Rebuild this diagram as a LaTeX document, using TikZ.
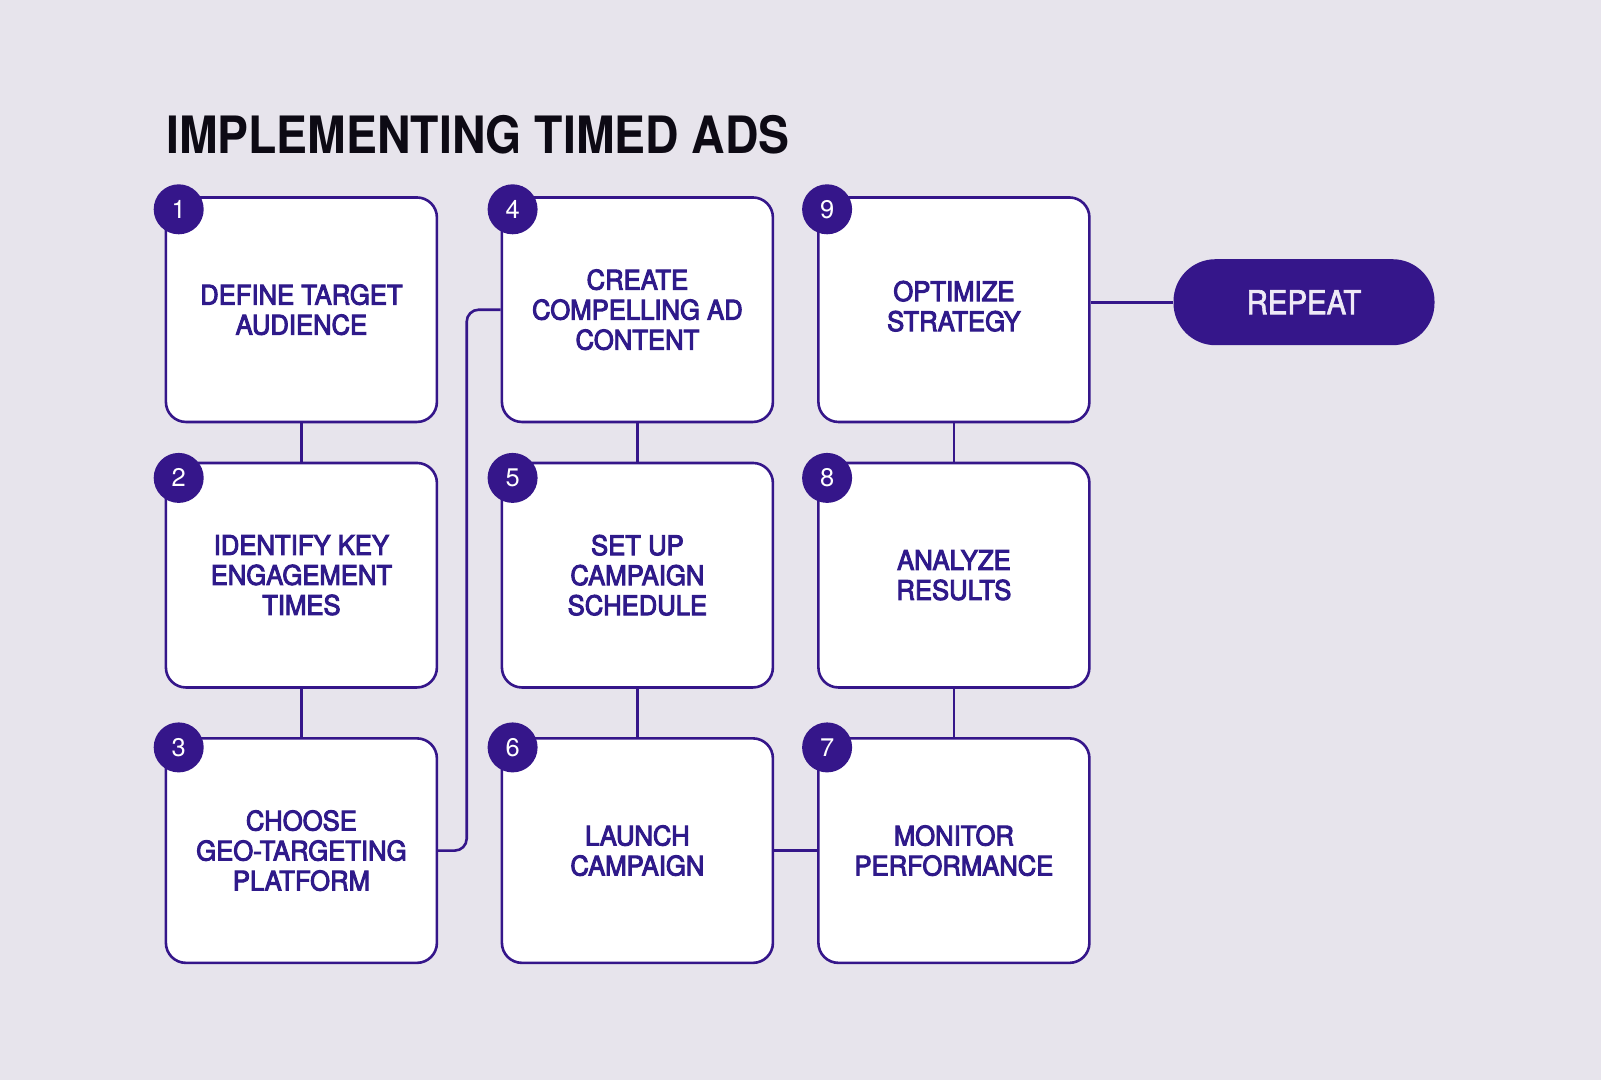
\documentclass[tikz,border=0pt]{standalone}
\usepackage{fontspec}
\setmainfont{TeX Gyre Heros}
\newfontfamily\titlefont[FakeStretch=0.9]{TeX Gyre Heros}
\newfontfamily\boxfont[FakeStretch=0.95,FakeBold=3.5]{TeX Gyre Heros}
\newfontfamily\numfont{TeX Gyre Heros}
\newfontfamily\repfont[FakeStretch=0.89,FakeBold=2]{TeX Gyre Heros}
\definecolor{bg}{HTML}{E7E4EC}
\definecolor{pur}{HTML}{35168A}
\definecolor{ptext}{HTML}{2F1A8A}
\definecolor{lav}{HTML}{EEE9F6}
\definecolor{titlec}{HTML}{0D0A14}
\tikzset{
  stepbox/.style={draw=pur, line width=2.6pt, fill=white, rounded corners=20pt,
    minimum width=271pt, minimum height=224.5pt, inner sep=0pt, align=center,
    text=ptext, font=\boxfont\fontsize{27}{30}\selectfont},
  boxtext/.style={inner sep=0pt, align=center, text=ptext, font=\boxfont\fontsize{27}{30}\selectfont},
  numc/.style={circle, fill=pur, draw=none, minimum size=50pt, inner sep=0pt,
    text=white, font=\numfont\fontsize{25.5}{25.5}\selectfont},
  conn/.style={draw=pur, line width=2.6pt},
  pill/.style={fill=pur, draw=none, rounded corners=42pt, minimum width=261pt,
    minimum height=86pt, inner sep=0pt, text=lav, font=\repfont\fontsize{33}{33}\selectfont}
}
\begin{document}
\begin{tikzpicture}[x=1pt,y=-1pt]
\fill[bg] (0,0) rectangle (1601,1080);
\useasboundingbox (0,0) rectangle (1601,1080);

\node[anchor=base west, inner sep=0pt, text=titlec,
  font=\titlefont\bfseries\fontsize{51.5}{51.5}\selectfont] (title) at (166,153) {IMPLEMENTING TIMED ADS};

\coordinate (jog) at (466.7,0);

\path (301.4,309.7) coordinate (c1) (301.4,575.2) coordinate (c2) (301.4,850.6) coordinate (c3)
      (637.4,309.7) coordinate (c4) (637.4,575.2) coordinate (c5) (637.4,850.6) coordinate (c6)
      (953.9,309.7) coordinate (c9) (953.9,575.2) coordinate (c8) (953.9,850.6) coordinate (c7);

\node[stepbox] (b1) at (c1) {DEFINE TARGET\\AUDIENCE};
\node[stepbox] (b2) at (c2) {IDENTIFY KEY\\ENGAGEMENT\\TIMES};
\node[stepbox] (b3) at (c3) {CHOOSE\\GEO-TARGETING\\PLATFORM};
\node[stepbox] (b4) at (c4) {CREATE\\COMPELLING AD\\CONTENT};
\node[stepbox] (b5) at (c5) {SET UP\\CAMPAIGN\\SCHEDULE};
\node[stepbox] (b6) at (c6) {LAUNCH\\CAMPAIGN};
\node[stepbox] (b7) at (c7) {MONITOR\\PERFORMANCE};
\node[stepbox] (b8) at (c8) {ANALYZE\\RESULTS};
\node[stepbox] (b9) at (c9) {};
\node[boxtext] (t9) at ([yshift=3.5pt]c9) {OPTIMIZE\\STRATEGY};

\node[pill] (rep) at (1304,302.2) {REPEAT};

\draw[conn] (b1.south) -- (b2.north);
\draw[conn] (b2.south) -- (b3.north);
\draw[conn] (b4.south) -- (b5.north);
\draw[conn] (b5.south) -- (b6.north);
\draw[conn] (b9.south) -- (b8.north);
\draw[conn] (b8.south) -- (b7.north);
\draw[conn] (b6.east) -- (b7.west);
\draw[conn, rounded corners=12pt] (b3.east) -- (b3.east -| jog) -- (b4.west -| jog) -- (b4.west);
\draw[conn] (rep.west -| b9.east) -- (rep.west);

\node[numc] (n1) at (178.7,209.3) {1};
\node[numc] (n2) at (178.7,477.9) {2};
\node[numc] (n3) at (178.7,747.4) {3};
\node[numc] (n4) at (512.6,209.3) {4};
\node[numc] (n5) at (512.6,477.9) {5};
\node[numc] (n6) at (512.6,747.4) {6};
\node[numc] (n7) at (827.1,747.4) {7};
\node[numc] (n8) at (827.1,477.9) {8};
\node[numc] (n9) at (827.1,209.3) {9};
\end{tikzpicture}
\end{document}
